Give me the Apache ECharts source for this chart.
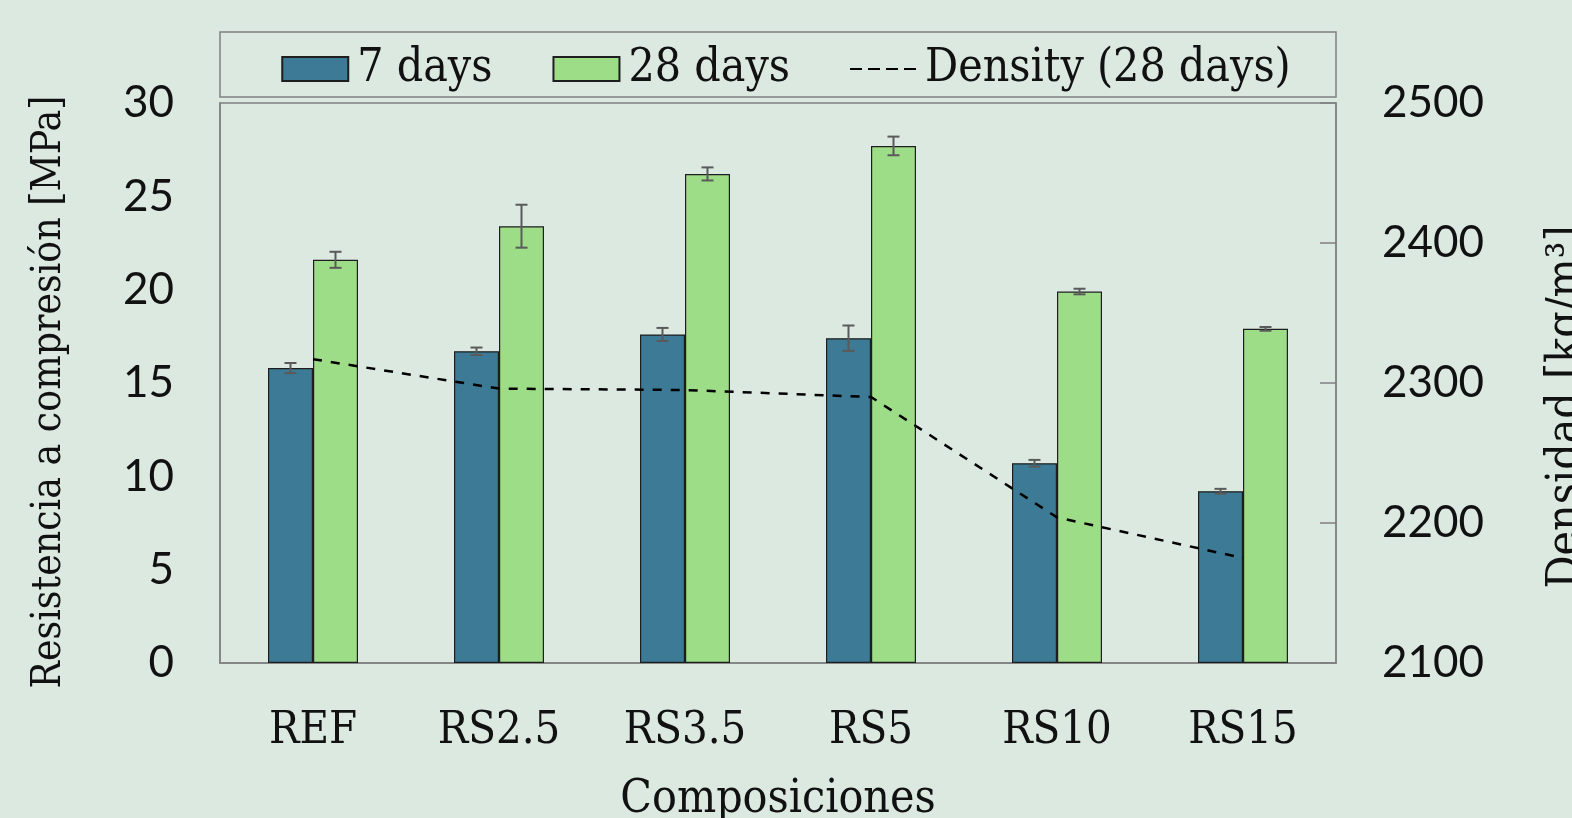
<!DOCTYPE html>
<html><head><meta charset="utf-8">
<script src="https://cdn.jsdelivr.net/npm/echarts@6/dist/echarts.min.js"></script>
<style>html,body{margin:0;padding:0;background:#dce9e1;}#c{width:1572px;height:818px;}</style>
</head><body><div id="c"></div>
<script>
const categories = ['REF','RS2.5','RS3.5','RS5','RS10','RS15'];
const days7 = [15.8, 16.7, 17.6, 17.4, 10.7, 9.2];
const days7Err = [0.27, 0.2, 0.35, 0.68, 0.18, 0.13];
const days28 = [21.6, 23.4, 26.2, 27.7, 19.9, 17.9];
const days28Err = [0.43, 1.15, 0.35, 0.5, 0.15, 0.1];
const density = [2317, 2296, 2295, 2290, 2204, 2175];
const leftTicks = {min: 0, max: 30, interval: 5};
const rightTicks = {min: 2100, max: 2500, interval: 100};

const SANS = 'Lato';
const SERIF = '"DejaVu Serif Condensed", "DejaVu Serif", serif';
const chart = echarts.init(document.getElementById('c'));

function errSeries(vals, errs, offset) {
  return {
    type: 'custom', yAxisIndex: 0, z: 5, silent: true,
    data: vals.map((v, i) => [i, v, errs[i]]),
    renderItem: function (params, api) {
      const i = api.value(0), v = api.value(1), e = api.value(2);
      const top = api.coord([i, v + e]);
      const bot = api.coord([i, v - e]);
      const x = top[0] + offset;
      const cw = 6;
      const st = {stroke: '#5a5a5a', lineWidth: 2};
      return {type: 'group', children: [
        {type: 'line', shape: {x1: x, y1: top[1], x2: x, y2: bot[1]}, style: st},
        {type: 'line', shape: {x1: x - cw, y1: top[1], x2: x + cw, y2: top[1]}, style: st},
        {type: 'line', shape: {x1: x - cw, y1: bot[1], x2: x + cw, y2: bot[1]}, style: st}
      ]};
    }
  };
}

chart.setOption({
  backgroundColor: '#dce9e1',
  textStyle: {fontFamily: SANS},
  animation: false,
  graphic: [{type: 'rect', shape: {x: 220, y: 32, width: 1116, height: 65},
    style: {fill: 'none', stroke: '#808080', lineWidth: 1.5}, z: 0}],
  legend: {
    top: 41, left: 'center',
    itemWidth: 66, itemHeight: 24, itemGap: 60,
    textStyle: {fontFamily: SERIF, fontSize: 46, color: '#111', padding: [0, 0, 0, 4]},
    data: [
      {name: '7 days', icon: 'rect'},
      {name: '28 days', icon: 'rect'},
      {name: 'Density (28 days)', icon: 'path://M0,11 h12 v2 h-12z M18,11 h12 v2 h-12z M36,11 h12 v2 h-12z M54,11 h12 v2 h-12z', itemStyle: {color: '#000'}}
    ]
  },
  grid: {left: 220, right: 236, top: 103, bottom: 155, show: true, borderColor: '#808080', borderWidth: 1.5,
    backgroundColor: 'transparent', outerBoundsMode: 'none', containLabel: false},
  xAxis: {
    type: 'category', data: categories,
    name: 'Composiciones', nameLocation: 'middle', nameGap: 114,
    nameTextStyle: {fontFamily: SERIF, fontSize: 46, color: '#111'},
    axisLine: {lineStyle: {color: '#808080', width: 1.5}},
    axisTick: {show: false},
    axisLabel: {fontFamily: SERIF, fontSize: 45, color: '#111', margin: 46}
  },
  yAxis: [{
    type: 'value', min: leftTicks.min, max: leftTicks.max, interval: leftTicks.interval,
    name: 'Resistencia a compresión [MPa]', nameLocation: 'middle', nameGap: 150,
    nameTextStyle: {fontFamily: SERIF, fontSize: 40.5, color: '#111', padding: [0, 18, 0, 0]},
    axisLine: {show: true, lineStyle: {color: '#808080', width: 1.5}},
    axisTick: {show: false}, splitLine: {show: false},
    axisLabel: {fontFamily: SANS, fontSize: 44, color: '#111', margin: 46}
  }, {
    type: 'value', min: rightTicks.min, max: rightTicks.max, interval: rightTicks.interval,
    position: 'right',
    name: 'Densidad [kg/m³]', nameLocation: 'middle', nameGap: 208, nameRotate: 90,
    nameTextStyle: {fontFamily: SERIF, fontSize: 46, color: '#111', padding: [0, 48, 0, 0]},
    axisLine: {show: true, lineStyle: {color: '#808080', width: 1.5}},
    axisTick: {show: true, inside: true, length: 16, lineStyle: {color: '#808080', width: 1.5}},
    splitLine: {show: false},
    axisLabel: {fontFamily: SANS, fontSize: 44, color: '#111', margin: 46, formatter: v => String(v)}
  }],
  series: [
    {name: '7 days', type: 'bar', data: days7, barWidth: 45, barGap: '0%',
      itemStyle: {color: '#3c7a96', borderColor: '#1e1e1e', borderWidth: 1.2}},
    {name: '28 days', type: 'bar', data: days28, barWidth: 45, barGap: '0%',
      itemStyle: {color: '#9edd88', borderColor: '#1e1e1e', borderWidth: 1.2}},
    errSeries(days7, days7Err, -22.5),
    errSeries(days28, days28Err, 22.5),
    {name: 'Density (28 days)', type: 'line', yAxisIndex: 1, data: density, symbol: 'none', z: 6,
      lineStyle: {color: '#000', width: 2.5, type: [9, 9]}, itemStyle: {color: '#000'}}
  ]
});
</script></body></html>
